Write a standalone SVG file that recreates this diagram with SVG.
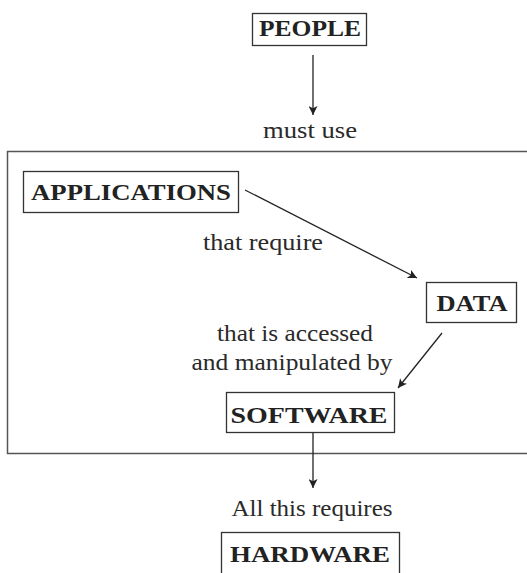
<svg xmlns="http://www.w3.org/2000/svg" width="527" height="573" viewBox="0 0 527 573">
<style>
.box{fill:#fff;stroke:#333;stroke-width:1.3}
.lbl{font-family:"Liberation Serif",serif;font-weight:bold;font-size:23px;fill:#222;text-anchor:middle}
.txt{font-family:"Liberation Serif",serif;font-size:24px;fill:#2a2a2a;text-anchor:middle}
.edge{stroke:#222;stroke-width:1.3;fill:none;marker-end:url(#ah)}
</style>
<defs>
<marker id="ah" viewBox="0 0 10 10" refX="10" refY="5" markerWidth="9" markerHeight="9" markerUnits="userSpaceOnUse" orient="auto">
<path d="M0,0 L10,5 L0,10 L2.5,5 Z" fill="#222"/>
</marker>
</defs>
<path id="frame" d="M527,151.5 H7.5 V453.5 H527" fill="none" stroke="#555" stroke-width="1.5"/>
<g id="people"><rect class="box" x="252.5" y="13.5" width="114" height="32"/><text class="lbl" x="310" y="36" textLength="102" lengthAdjust="spacingAndGlyphs">PEOPLE</text></g>
<g id="applications"><rect class="box" x="23.5" y="171.5" width="215" height="41"/><text class="lbl" x="131" y="200" textLength="200" lengthAdjust="spacingAndGlyphs">APPLICATIONS</text></g>
<g id="data"><rect class="box" x="426.5" y="282.5" width="90" height="40"/><text class="lbl" x="472" y="311" textLength="71" lengthAdjust="spacingAndGlyphs">DATA</text></g>
<g id="software"><rect class="box" x="226.5" y="392.5" width="168" height="40"/><text class="lbl" x="309" y="423" textLength="157" lengthAdjust="spacingAndGlyphs">SOFTWARE</text></g>
<g id="hardware"><rect class="box" x="221.5" y="532.5" width="178" height="50"/><text class="lbl" x="310" y="562" textLength="160" lengthAdjust="spacingAndGlyphs">HARDWARE</text></g>
<g id="connectors">
<line class="edge" x1="313" y1="55" x2="313" y2="115"/>
<line class="edge" x1="245" y1="190" x2="417" y2="278"/>
<line class="edge" x1="442" y1="333" x2="398" y2="388"/>
<line class="edge" x1="313" y1="433" x2="313" y2="488"/>
</g>
<g id="labels">
<text class="txt" x="310" y="138" textLength="94" lengthAdjust="spacingAndGlyphs">must use</text>
<text class="txt" x="263" y="250" textLength="120" lengthAdjust="spacingAndGlyphs">that require</text>
<text class="txt" x="295" y="341" textLength="156" lengthAdjust="spacingAndGlyphs">that is accessed</text>
<text class="txt" x="292" y="370" textLength="201" lengthAdjust="spacingAndGlyphs">and manipulated by</text>
<text class="txt" x="312" y="516" textLength="161" lengthAdjust="spacingAndGlyphs">All this requires</text>
</g>
</svg>
